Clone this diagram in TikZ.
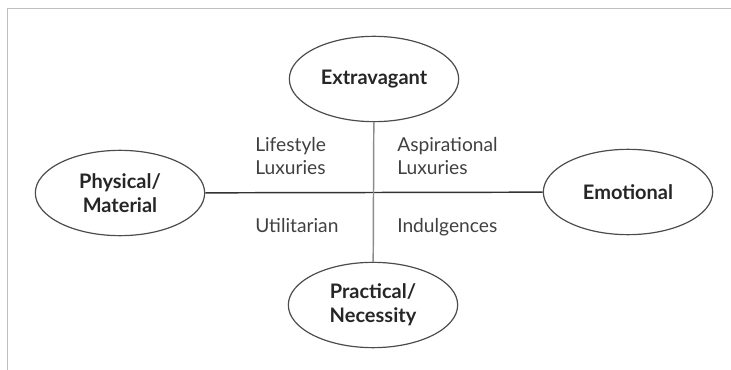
\documentclass[tikz,border=0pt]{standalone}
\usepackage{fontspec}
\setmainfont{Lato}
\usetikzlibrary{shapes.geometric}

\tikzset{
  pole/.style={ellipse,draw=black!70,line width=0.9pt,inner sep=0pt,
    minimum width=127pt,minimum height=64pt,font=\fontsize{15}{18}\selectfont\bfseries,
    align=center,text=black!85},
  quad/.style={anchor=base west,align=left,inner sep=0pt,
    font=\fontsize{14.4}{17.3}\selectfont,text=black!75},
}

\begin{document}
\begin{tikzpicture}[x=0.75pt,y=-0.75pt]
        \useasboundingbox (0,0) rectangle (731,370);

        % frame
        \draw[black!25,line width=1.4pt] (7.5,370) -- (7.5,8.5) -- (731,8.5);

        \node[pole] (ext) at (374,79)  {Extravagant};
        \node[pole] (phy) at (120,193) {Physical/\\Material};
        \node[pole] (emo) at (628,192) {Emotional};
        \node[pole] (pra) at (373,305) {Practical/\\Necessity};

        \draw[black!80,line width=1.1pt] (phy) -- (emo);
        \draw[black!45,line width=1.1pt] (ext) -- (pra);

        % two-line labels sit on their last line
        \node[quad] (lif) at (255,175) {Lifestyle\\Luxuries};
        \node[quad] (asp) at (397,175) {Aspirational\\Luxuries};
        \node[quad] (uti) at (255,233) {Utilitarian};
        \node[quad] (ind) at (397,233) {Indulgences};

      \end{tikzpicture}
\end{document}
